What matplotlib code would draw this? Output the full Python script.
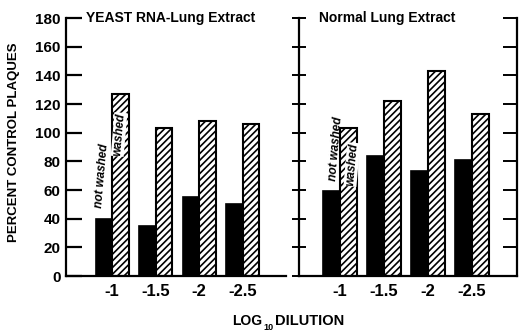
import matplotlib
matplotlib.use("Agg")
import matplotlib.pyplot as plt
import numpy as np

plt.rcParams['font.family'] = ['Liberation Sans Narrow', 'Liberation Sans', 'DejaVu Sans']
plt.rcParams['font.weight'] = 'bold'
plt.rcParams['hatch.linewidth'] = 1.2

dilutions = ["-1", "-1.5", "-2", "-2.5"]
yeast_not_washed = [40, 35, 55, 50]
yeast_washed = [127, 103, 108, 106]
normal_not_washed = [59, 84, 73, 81]
normal_washed = [103, 122, 143, 113]
yticks = [0, 20, 40, 60, 80, 100, 120, 140, 160, 180]

fig = plt.figure(figsize=(5.19, 3.34), dpi=100)
ax1 = fig.add_axes([66 / 519, 1 - 276 / 334, 220 / 519, 258 / 334])
ax2 = fig.add_axes([299 / 519, 1 - 276 / 334, 218 / 519, 258 / 334])

x = np.arange(len(dilutions))
w = 0.38


def panel(ax, nw, wa, title, tx):
    ax.bar(x - w / 2, nw, w, color='black', edgecolor='black', linewidth=1.2)
    ax.bar(x + w / 2, wa, w, color='white', edgecolor='black', hatch='/////', linewidth=1.5)
    ax.set_ylim(0, 180)
    ax.set_yticks(yticks)
    ax.set_xticks(x)
    ax.set_xticklabels(dilutions, fontsize=12, fontweight='bold')
    ax.spines['top'].set_visible(False)
    ax.spines['right'].set_visible(False)
    for s in ['left', 'bottom']:
        ax.spines[s].set_linewidth(1.6)
    ax.tick_params(axis='x', length=0, pad=6)
    ax.text(tx, 180, title, fontsize=10, fontweight='bold', va='center', ha='left',
            clip_on=False)


def labels(ax, nx, ny, wx, wy):
    ax.text(nx, ny, "not washed", rotation=85, style='italic', fontsize=8.5,
            fontweight='bold', ha='center', va='bottom')
    ax.text(wx, wy, "washed", rotation=85, style='italic', fontsize=8.5,
            fontweight='bold', ha='center', va='top',
            bbox=dict(facecolor='white', edgecolor='none', pad=0.3))


panel(ax1, yeast_not_washed, yeast_washed, "YEAST RNA-Lung Extract", -0.6)
ax1.set_xlim(-1.06, 4.0)
ax1.set_yticklabels([str(v) for v in yticks], fontsize=11, fontweight='bold')
ax1.tick_params(axis='y', direction='in', length=11.5, width=1.6, pad=4)
labels(ax1, -0.23, 47, 0.16, 114)

panel(ax2, normal_not_washed, normal_washed, "Normal Lung Extract", -0.47)
ax2.set_xlim(-0.93, 4.02)
ax2.tick_params(axis='y', direction='inout', length=9.5, width=1.4, labelleft=False)
labels(ax2, -0.1, 66, 0.27, 93)
ax2r = ax2.twinx()
ax2r.set_ylim(0, 180)
ax2r.set_yticks(yticks)
ax2r.tick_params(axis='y', direction='in', length=10, width=1.4, labelright=False)
for s in ['top', 'left', 'bottom']:
    ax2r.spines[s].set_visible(False)
ax2r.spines['right'].set_linewidth(1.6)

fig.text(14 / 519, 1 - 142 / 334, "PERCENT CONTROL PLAQUES", rotation=90, fontsize=9.5,
         fontweight='bold', ha='center', va='center')
fig.text(232 / 519, 1 - 321 / 334, "LOG", fontsize=10, fontweight='bold', ha='left', va='center')
fig.text(263 / 519, 1 - 327 / 334, "10", fontsize=6.5, fontweight='bold', ha='left', va='center')
fig.text(275 / 519, 1 - 321 / 334, "DILUTION", fontsize=10.5, fontweight='bold', ha='left', va='center')

fig.savefig("out.png", dpi=100)
